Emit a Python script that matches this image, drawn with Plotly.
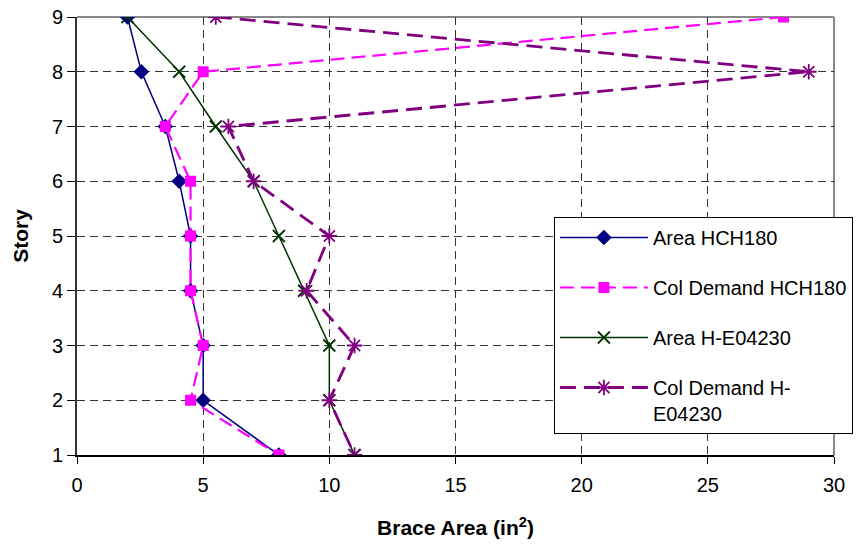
import plotly.graph_objects as go

stories = [9, 8, 7, 6, 5, 4, 3, 2, 1]
area_hch180 = [2.0, 2.55, 3.5, 4.05, 4.5, 4.5, 5.0, 5.0, 8.0]
col_demand_hch180 = [28.0, 5.0, 3.5, 4.5, 4.5, 4.5, 5.0, 4.5, 8.0]
area_he04230 = [2.0, 4.05, 5.5, 7.0, 8.0, 9.0, 10.0, 10.0, 11.0]
col_demand_he04230 = [5.5, 29.0, 6.0, 7.0, 10.0, 9.1, 11.0, 10.0, 11.0]

x_ticks = [0, 5, 10, 15, 20, 25, 30]
y_ticks = [1, 2, 3, 4, 5, 6, 7, 8, 9]

fig = go.Figure()
fig.add_trace(go.Scatter(
    x=area_hch180, y=stories, mode="lines+markers", name="Area HCH180",
    line=dict(color="#000080", width=1.5),
    marker=dict(symbol="diamond", size=12, color="#000080"),
    legendgroup="a"))
fig.add_trace(go.Scatter(
    x=col_demand_hch180, y=stories, mode="lines+markers", name="Col Demand HCH180",
    line=dict(color="#FF00FF", width=2.2, dash="14px,7px"),
    marker=dict(symbol="square", size=11, color="#FF00FF"),
    legendgroup="b"))
fig.add_trace(go.Scatter(
    x=area_he04230, y=stories, mode="lines+markers", name="Area H-E04230",
    line=dict(color="#003300", width=1.5),
    marker=dict(symbol="x-thin", size=12, line=dict(color="#003300", width=1.8)),
    legendgroup="c"))
fig.add_trace(go.Scatter(
    x=col_demand_he04230, y=stories, mode="lines+markers", name="Col Demand H-<br>E04230",
    line=dict(color="#800080", width=2.8, dash="16px,8px"),
    marker=dict(symbol="asterisk", size=13, line=dict(color="#800080", width=1.8)),
    legendgroup="d"))

font_family = "Liberation Sans, Arial, sans-serif"

fig.update_layout(
    width=856, height=546,
    margin=dict(l=77, r=22, t=17, b=91, autoexpand=False),
    paper_bgcolor="white", plot_bgcolor="white",
    font=dict(family=font_family, size=20, color="black"),
    showlegend=True,
    legend=dict(
        x=0.630, y=0.5434, xanchor="left", yanchor="top",
        bgcolor="white", bordercolor="black", borderwidth=1,
        font=dict(size=20, family=font_family),
        traceorder="grouped", tracegroupgap=21, valign="top",
        itemwidth=88,
    ),
    xaxis=dict(
        range=[0, 30], tickvals=x_ticks, ticktext=[str(v) for v in x_ticks],
        showgrid=True, gridcolor="#333333", griddash="8px,5px", gridwidth=1,
        showline=True, linecolor="black", linewidth=1.5,
        mirror=False, ticks="outside", ticklen=7, tickcolor="black",
        ticklabelstandoff=4,
        zeroline=False, automargin=False,
        title=dict(text="<b>Brace Area (in<sup>2</sup>)</b>", font=dict(size=21), standoff=26),
        tickfont=dict(size=20),
    ),
    yaxis=dict(
        range=[1, 9], tickvals=y_ticks, ticktext=[str(v) for v in y_ticks],
        showgrid=True, gridcolor="#333333", griddash="8px,5px", gridwidth=1,
        showline=True, linecolor="#333333", linewidth=2,
        ticks="outside", ticklen=8, tickcolor="black",
        zeroline=False, automargin=False,
        title=dict(text="<b>Story</b>", font=dict(size=21), standoff=18),
        tickfont=dict(size=20),
    ),
)

# gray top/right frame
fig.add_shape(type="line", xref="paper", yref="paper", x0=0, y0=1, x1=1, y1=1,
              line=dict(color="#888888", width=2), layer="below")
fig.add_shape(type="line", xref="paper", yref="paper", x0=1, y0=0, x1=1, y1=1,
              line=dict(color="#888888", width=2), layer="below")

fig.write_html("out.html")
